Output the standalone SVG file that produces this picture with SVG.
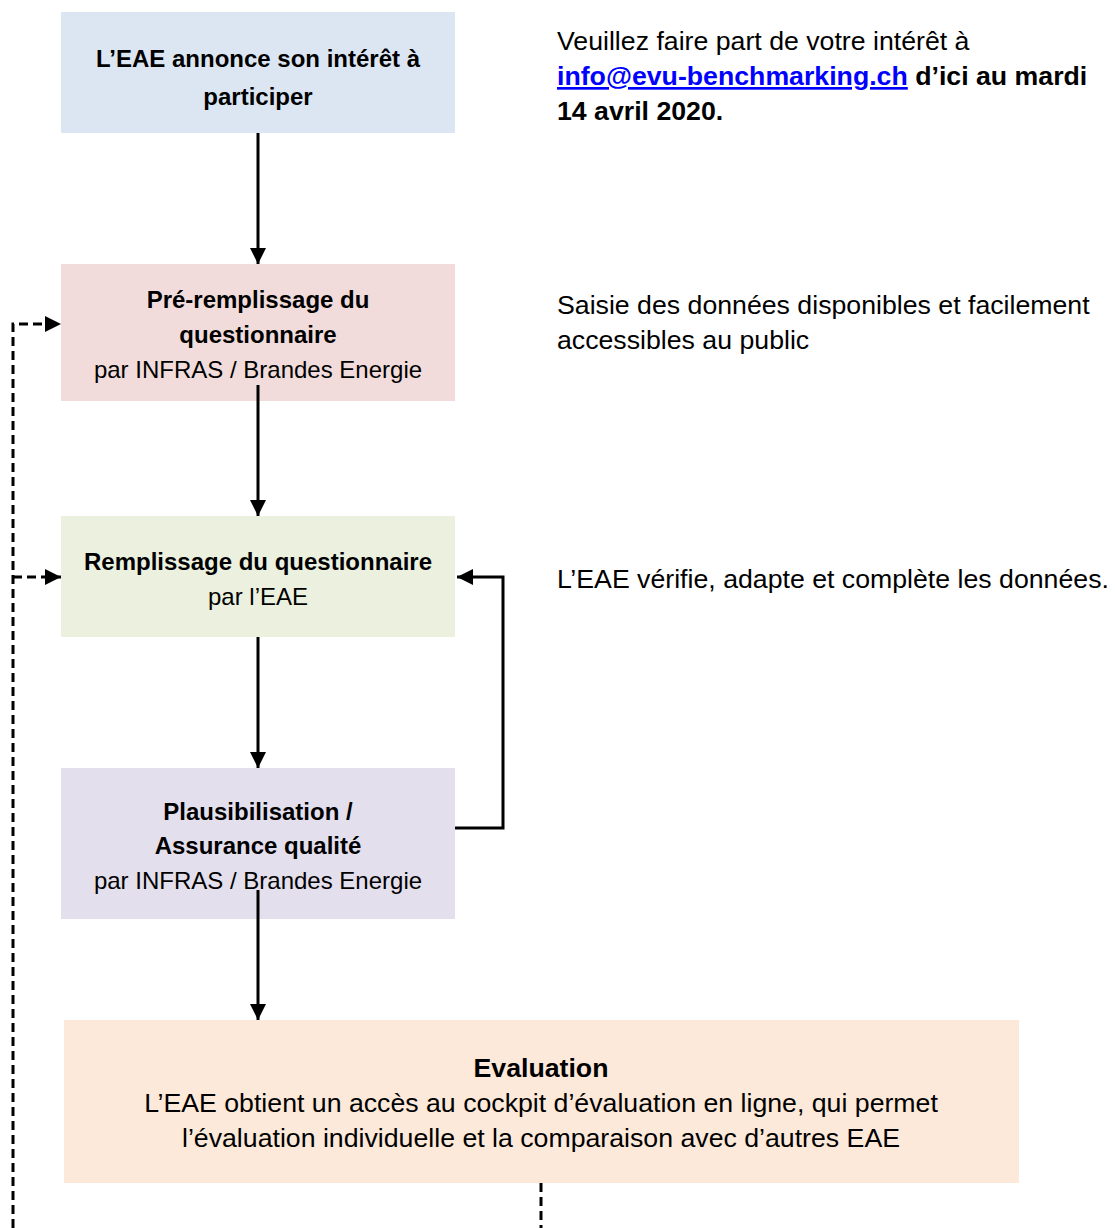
<svg xmlns="http://www.w3.org/2000/svg" width="1115" height="1228" viewBox="0 0 1115 1228">
<defs>
<style>
text{font-family:"Liberation Sans",Arial,sans-serif;fill:#000}
.b{font-weight:bold;font-size:24px}
.r{font-size:24px}
.side{font-size:26.7px}
.eval{font-size:26.7px}
.ln{fill:none;stroke:#000;stroke-width:3}
.dash{fill:none;stroke:#000;stroke-width:3;stroke-dasharray:9,5}
</style>
<marker id="ah" markerUnits="userSpaceOnUse" markerWidth="17" markerHeight="17" viewBox="0 0 17 17" refX="16" refY="8.5" orient="auto">
<path d="M0,0.5 L16,8.5 L0,16.5 z" fill="#000"/>
</marker>
</defs>
<rect width="1115" height="1228" fill="#fff"/>

<g id="node-interet">
<rect x="61" y="12" width="394" height="121" fill="#dce6f2"/>
<text class="b" x="258" y="67" text-anchor="middle">L’EAE annonce son intérêt à</text>
<text class="b" x="258" y="105" text-anchor="middle">participer</text>
</g>

<g id="node-preremplissage">
<rect x="61" y="264" width="394" height="137" fill="#f2dcdb"/>
<text class="b" x="258" y="308" text-anchor="middle">Pré-remplissage du</text>
<text class="b" x="258" y="343" text-anchor="middle">questionnaire</text>
<text class="r" x="258" y="378" text-anchor="middle">par INFRAS / Brandes Energie</text>
</g>

<g id="node-remplissage">
<rect x="61" y="516" width="394" height="121" fill="#ebf1de"/>
<text class="b" x="258" y="570" text-anchor="middle">Remplissage du questionnaire</text>
<text class="r" x="258" y="605" text-anchor="middle">par l’EAE</text>
</g>

<g id="node-plausibilisation">
<rect x="61" y="768" width="394" height="151" fill="#e4dfec"/>
<text class="b" x="258" y="820" text-anchor="middle">Plausibilisation /</text>
<text class="b" x="258" y="854" text-anchor="middle">Assurance qualité</text>
<text class="r" x="258" y="889" text-anchor="middle">par INFRAS / Brandes Energie</text>
</g>

<g id="node-evaluation">
<rect x="64" y="1020" width="955" height="163" fill="#fde9d9"/>
<text class="eval" x="541" y="1077" text-anchor="middle" font-weight="bold">Evaluation</text>
<text class="eval" x="541" y="1112" text-anchor="middle">L’EAE obtient un accès au cockpit d’évaluation en ligne, qui permet</text>
<text class="eval" x="541" y="1147" text-anchor="middle">l’évaluation individuelle et la comparaison avec d’autres EAE</text>
</g>

<g id="note-interet">
<text class="side" x="557" y="50">Veuillez faire part de votre intérêt à</text>
<text class="side" x="557" y="85" font-weight="bold"><tspan fill="#0000ff" text-decoration="underline" style="fill:#0000ff">info@evu-benchmarking.ch</tspan> d’ici au mardi</text>
<text class="side" x="557" y="120" font-weight="bold">14 avril 2020.</text>
</g>

<g id="note-saisie">
<text class="side" x="557" y="314">Saisie des données disponibles et facilement</text>
<text class="side" x="557" y="349">accessibles au public</text>
</g>

<g id="note-verifie">
<text class="side" x="557" y="588">L’EAE vérifie, adapte et complète les données.</text>
</g>

<g id="connectors">
<path class="ln" d="M258,133 V264" marker-end="url(#ah)"/>
<path class="ln" d="M258,385 V516" marker-end="url(#ah)"/>
<path class="ln" d="M258,637 V768" marker-end="url(#ah)"/>
<path class="ln" d="M258,890 V1020" marker-end="url(#ah)"/>
<path class="ln" d="M455,828 H503 V577 H457" marker-end="url(#ah)"/>
<path class="dash" d="M13,1228 V324 H61" marker-end="url(#ah)"/>
<path class="dash" d="M13,577 H61" marker-end="url(#ah)"/>
<path class="dash" d="M541,1183 V1228"/>
</g>
</svg>
